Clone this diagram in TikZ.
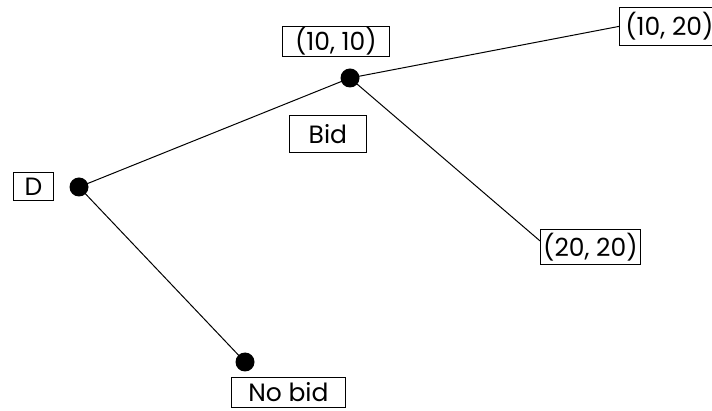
\documentclass[tikz,border=0pt]{standalone}
\usepackage{fontspec}
\setmainfont{Poppins}
\begin{document}
\begin{tikzpicture}[x=1pt,y=-1pt,
  dot/.style={circle,fill=black,inner sep=0pt,minimum size=19pt},
  lbl/.style={draw,line width=0.8pt,inner sep=0pt,font=\fontsize{25}{27}\selectfont,anchor=north west},
  edge/.style={line width=1pt}]
\useasboundingbox (0,0) rectangle (712,411);
\node[dot] (d) at (79,187) {};
\node[dot] (m) at (350,78) {};
\node[dot] (nb) at (245,362) {};
\node[lbl,minimum width=40pt,minimum height=28pt] (dl) at (13,172) {D};
\node[lbl,minimum width=107pt,minimum height=30pt] (ml) at (282,26) {(10, 10)};
\node[lbl,minimum width=77pt,minimum height=37pt] (bid) at (289,115) {Bid};
\node[lbl,minimum width=100pt,minimum height=38pt] (tr) at (619,7) {(10, 20)};
\node[lbl,minimum width=100pt,minimum height=35pt] (br) at (540,229) {(20, 20)};
\node[lbl,minimum width=114pt,minimum height=30pt] (nbl) at (231,377) {No bid};
\draw[edge] (d.center) -- (m.center);
\draw[edge] (d.center) -- (nb.center);
\draw[edge] (m.center) -- (tr.west);
\draw[edge] (m.center) -- ([yshift=6pt]br.west);
\end{tikzpicture}
\end{document}
